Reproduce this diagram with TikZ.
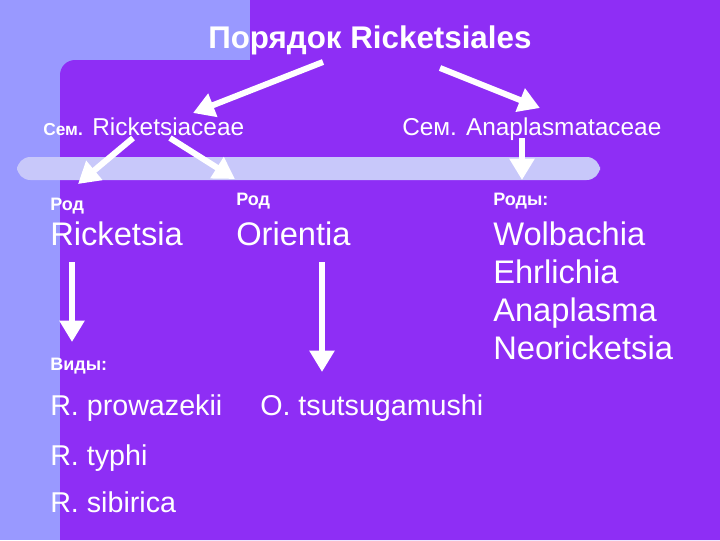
\documentclass[tikz,border=0pt]{standalone}
\usepackage{fontspec}
\setmainfont{Liberation Sans}
\usetikzlibrary{arrows.meta}
\definecolor{bgp}{HTML}{8E2EF5}
\definecolor{lav}{HTML}{9999FF}
\definecolor{barc}{HTML}{C8C8FA}
\begin{document}
\begin{tikzpicture}[x=0.75pt,y=-0.75pt,
  t/.style={anchor=base west,text=white,inner sep=0pt},
  arr/.style={draw=white,line width=4.5pt,-{Triangle[length=16pt,width=18pt]}}]
\useasboundingbox (0,0) rectangle (720,540);
\fill[lav] (0,0) rectangle (720,540);
\fill[bgp] (250,0) rectangle (720,61);
\fill[bgp] (60,540) -- (60,75) arc[start angle=180,end angle=270,radius=15] -- (720,60) -- (720,540) -- cycle;
\fill[barc,rounded corners=10pt] (17,157) rectangle (600,180);
\node[t,font=\bfseries\fontsize{23.5}{27}\selectfont] (title) at (208,48) {Порядок Ricketsiales};
\node[t,font=\fontsize{13}{15}\selectfont\bfseries] (sem1) at (43,135) {Сем.};
\node[t,font=\fontsize{18.3}{21}\selectfont] (fam1) at (92,135) {Ricketsiaceae};
\node[t,font=\fontsize{18.3}{21}\selectfont] (fam2) at (402,135) {Сем. Anaplasmataceae};
\node[t,font=\bfseries\fontsize{13.5}{16}\selectfont] (rod1) at (50,210) {Род};
\node[t,font=\bfseries\fontsize{13.5}{16}\selectfont] (rod2) at (236,205) {Род};
\node[t,font=\bfseries\fontsize{13.5}{16}\selectfont] (rod3) at (493,205) {Роды:};
\node[t,font=\fontsize{24.5}{28}\selectfont] (ric) at (50,245) {Ricketsia};
\node[t,font=\fontsize{24.5}{28}\selectfont] (ori) at (236,245) {Orientia};
\node[t,font=\fontsize{24.5}{28}\selectfont] (wol) at (493,245) {Wolbachia};
\node[t,font=\fontsize{24.5}{28}\selectfont] (ehr) at (493,283) {Ehrlichia};
\node[t,font=\fontsize{24.5}{28}\selectfont] (ana) at (493,321) {Anaplasma};
\node[t,font=\fontsize{24.5}{28}\selectfont] (neo) at (493,359) {Neoricketsia};
\node[t,font=\bfseries\fontsize{13.5}{16}\selectfont] (vid) at (50,370) {Виды:};
\node[t,font=\fontsize{21.5}{25}\selectfont] (rp) at (50,415) {R. prowazekii};
\node[t,font=\fontsize{21.5}{25}\selectfont] (ot) at (260,415) {O. tsutsugamushi};
\node[t,font=\fontsize{21.5}{25}\selectfont] (rt) at (50,465) {R. typhi};
\node[t,font=\fontsize{21.5}{25}\selectfont] (rs) at (50,512) {R. sibirica};
\coordinate (a1s) at (323,62); \coordinate (a1e) at (193,113);
\coordinate (a2s) at (440,68); \coordinate (a2e) at (540,108);
\coordinate (a3s) at (133,138); \coordinate (a3e) at (78,184);
\coordinate (a4s) at (170,138); \coordinate (a4e) at (235,179);
\coordinate (a5s) at (522,138); \coordinate (a5e) at (522,180);
\coordinate (a6s) at (72,262); \coordinate (a6e) at (72,342);
\coordinate (a7s) at (322,262); \coordinate (a7e) at (322,372);
\foreach \i in {1,...,7} \draw[arr] (a\i s) -- (a\i e);
\end{tikzpicture}
\end{document}
